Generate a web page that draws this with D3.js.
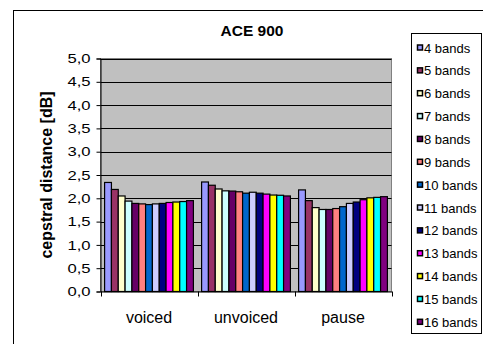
<!DOCTYPE html>
<html>
<head>
<meta charset="utf-8">
<script src="https://cdn.jsdelivr.net/npm/d3@7/dist/d3.min.js"></script>
<style>
  html, body { margin: 0; padding: 0; background: #fff; }
  svg { display: block; font-family: Arial, "Liberation Sans", sans-serif; }
</style>
</head>
<body>
<svg id="chart" width="483" height="344"></svg>
<script>
// Cepstral distance per frame class for different numbers of bands
const categories = ["voiced", "unvoiced", "pause"];
const seriesNames = ["4 bands", "5 bands", "6 bands", "7 bands", "8 bands", "9 bands",
  "10 bands", "11 bands", "12 bands", "13 bands", "14 bands", "15 bands", "16 bands"];
const seriesColors = ["#9999FF", "#993366", "#FFFFCC", "#CCFFFF", "#660066", "#FF8080",
  "#0066CC", "#CCCCFF", "#000080", "#FF00FF", "#FFFF00", "#00FFFF", "#800080"];
const voicedValues   = [2.34, 2.19, 2.05, 1.94, 1.89, 1.88, 1.865, 1.88, 1.89, 1.91, 1.92, 1.93, 1.95];
const unvoicedValues = [2.35, 2.28, 2.20, 2.16, 2.155, 2.14, 2.11, 2.13, 2.11, 2.09, 2.07, 2.065, 2.05];
const pauseValues    = [2.18, 1.95, 1.80, 1.76, 1.76, 1.78, 1.82, 1.89, 1.92, 1.97, 2.01, 2.02, 2.035];
const yTicks = [0, 0.5, 1.0, 1.5, 2.0, 2.5, 3.0, 3.5, 4.0, 4.5, 5.0];
const chartTitle = "ACE 900";
const yLabel = "cepstral distance [dB]";

const valuesByCategory = [voicedValues, unvoicedValues, pauseValues];

const svg = d3.select("#chart");
const plot = { left: 100.5, right: 391.5, top: 58.5, bottom: 291.5 };

// outer chart frame
svg.append("rect")
  .attr("x", 13.5).attr("y", 10.5).attr("width", 480).attr("height", 340)
  .attr("fill", "#fff").attr("stroke", "#000").attr("stroke-width", 1);

const y = d3.scaleLinear().domain([0, 5]).range([plot.bottom, plot.top]);
const x0 = d3.scaleBand().domain(categories).range([plot.left, plot.right]).padding(0);
const x1 = d3.scaleBand().domain(seriesNames).range([0, x0.bandwidth()])
  .paddingInner(0).paddingOuter(0.6);

// plot area background
svg.append("rect")
  .attr("x", plot.left).attr("y", plot.top)
  .attr("width", plot.right - plot.left).attr("height", plot.bottom - plot.top)
  .attr("fill", "#C0C0C0").attr("stroke", "#808080").attr("stroke-width", 1);

// horizontal gridlines
svg.append("g").selectAll("line")
  .data(yTicks.filter(t => t > 0))
  .join("line")
  .attr("x1", plot.left).attr("x2", plot.right)
  .attr("y1", d => Math.round(y(d)) + 0.5).attr("y2", d => Math.round(y(d)) + 0.5)
  .attr("stroke", "#000").attr("stroke-width", 1);

// bars
const groups = svg.append("g").selectAll("g")
  .data(categories)
  .join("g")
  .attr("transform", d => `translate(${x0(d)},0)`);

groups.selectAll("rect")
  .data((c, ci) => seriesNames.map((s, si) => ({ s, si, v: valuesByCategory[ci][si] })))
  .join("rect")
  .attr("x", d => x1(d.s))
  .attr("y", d => y(d.v))
  .attr("width", x1.bandwidth())
  .attr("height", d => y(0) - y(d.v))
  .attr("fill", d => seriesColors[d.si])
  .attr("stroke", "#000").attr("stroke-width", 1.2);

// y axis
const yAxis = d3.axisLeft(y).tickValues(yTicks).tickSize(4).tickPadding(10)
  .tickFormat(d => d3.format(".1f")(d).replace(".", ","));
const gy = svg.append("g").attr("transform", `translate(${plot.left},0)`).call(yAxis);
gy.select(".domain").attr("stroke", "#000");
gy.selectAll(".tick line").attr("stroke", "#000");
gy.selectAll(".tick text")
  .attr("font-size", 13).attr("fill", "#000")
  .attr("transform", "scale(1.28,1)")
  .attr("x", -10 / 1.28);

// x axis
const xAxis = d3.axisBottom(x0).tickSize(0).tickPadding(0);
const gx = svg.append("g").attr("transform", `translate(0,${plot.bottom})`).call(xAxis);
gx.select(".domain").attr("stroke", "#000");
gx.selectAll(".tick text").remove();
// tick marks between categories
const edges = categories.map(c => x0(c)).concat([plot.right]);
gx.selectAll(".cat-tick").data(edges).join("line")
  .attr("class", "cat-tick")
  .attr("x1", d => Math.round(d) + 0.5).attr("x2", d => Math.round(d) + 0.5)
  .attr("y1", 0).attr("y2", 5).attr("stroke", "#000");
gx.selectAll(".cat-label").data(categories).join("text")
  .attr("class", "cat-label")
  .attr("x", d => x0(d) + x0.bandwidth() / 2)
  .attr("y", 31)
  .attr("text-anchor", "middle")
  .attr("font-size", 16).attr("fill", "#000")
  .text(d => d);

// title
svg.append("text")
  .attr("x", 252).attr("y", 36)
  .attr("text-anchor", "middle")
  .attr("font-size", 15.5).attr("font-weight", "bold")
  .text(chartTitle);

// y axis title
svg.append("text")
  .attr("transform", `translate(52,${(plot.top + plot.bottom) / 2}) rotate(-90)`)
  .attr("text-anchor", "middle")
  .attr("font-size", 16).attr("font-weight", "bold")
  .text(yLabel);

// legend
const legend = svg.append("g");
legend.append("rect")
  .attr("x", 411.5).attr("y", 33.5).attr("width", 70).attr("height", 300)
  .attr("fill", "#fff").attr("stroke", "#000");
const ly = d3.scalePoint().domain(seriesNames).range([48, 322.3]);
const items = legend.selectAll("g.item").data(seriesNames).join("g")
  .attr("class", "item")
  .attr("transform", d => `translate(0,${ly(d)})`);
items.append("rect")
  .attr("x", 417.5).attr("y", -3).attr("width", 5).attr("height", 5)
  .attr("fill", (d, i) => seriesColors[i]).attr("stroke", "#000").attr("stroke-width", 1.5);
items.append("text")
  .attr("x", 424).attr("y", 0).attr("dy", "0.35em")
  .attr("font-size", 13).attr("fill", "#000")
  .text(d => d);
</script>
</body>
</html>
